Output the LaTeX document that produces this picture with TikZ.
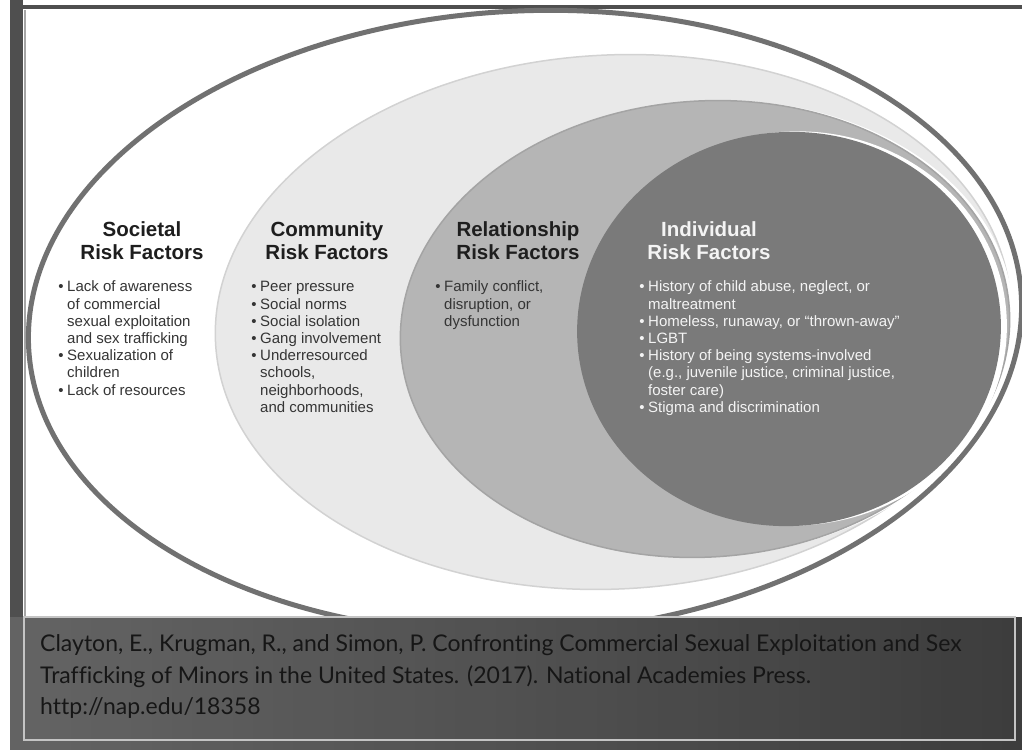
\documentclass[tikz,border=0pt]{standalone}
\usepackage{fontspec}
\setmainfont{Liberation Sans}
\newfontfamily\citefont[Ligatures=NoCommon]{Lato}
\definecolor{framegray}{HTML}{4F4F4F}
\definecolor{ringgray}{HTML}{717171}
\definecolor{commfill}{HTML}{E9E9E9}
\definecolor{commline}{HTML}{D2D2D2}
\definecolor{relfill}{HTML}{B5B5B5}
\definecolor{relline}{HTML}{A4A4A4}
\definecolor{indfill}{HTML}{7A7A7A}
\definecolor{headdark}{HTML}{1E1E1E}
\definecolor{itemdark}{HTML}{353535}
\definecolor{headlight}{HTML}{F4F4F4}
\definecolor{citetext}{HTML}{161616}
\definecolor{bandline}{HTML}{C4C4C4}
\newcommand\bul{\llap{\textbullet\hspace{3.5pt}}}
\tikzset{
  head/.style={anchor=base, inner sep=0pt, font=\bfseries\fontsize{20.5}{23}\selectfont},
  item/.style={anchor=base west, inner sep=0pt, font=\fontsize{15}{17.2}\selectfont},
  cite/.style={anchor=base west, inner sep=0pt, text=citetext, font=\citefont\fontsize{23}{30}\selectfont}
}
\begin{document}
\begin{tikzpicture}[x=1pt,y=1pt]
\useasboundingbox (0,0) rectangle (1022,750);
% slide frame
\fill[white] (0,0) rectangle (1022,750);
\fill[framegray] (10,0) rectangle (23,750);
\fill[framegray] (10,741) rectangle (1022,745);
\draw[black!35, line width=1.5pt] (25,133) -- (25,740);
% outer ring
\draw[ringgray, line width=5pt, rotate around={3:(525,428)}] (525,428) ellipse [x radius=497, y radius=311];
% community, with a white rim on the right
\begin{scope}[shift={(613,428)}, rotate=3]
\fill[white] (4,0) ellipse [x radius=398, y radius=267];
\fill[commfill] (0,0) ellipse [x radius=398, y radius=267];
\draw[commline, line width=1.5pt] (0,0) ellipse [x radius=398, y radius=267];
\end{scope}
% relationship
\begin{scope}[shift={(705,421)}, rotate=4]
\fill[white] (4,0) ellipse [x radius=305, y radius=228];
\fill[relfill] (0,0) ellipse [x radius=305, y radius=228];
\draw[relline, line width=1.5pt] (0,0) ellipse [x radius=305, y radius=228];
\end{scope}
% individual
\begin{scope}[shift={(789,421)}, rotate=5]
\fill[white] (6,0) ellipse [x radius=212, y radius=197];
\fill[indfill] (0,0) ellipse [x radius=212, y radius=197];
\end{scope}
% headings
\foreach \name/\x/\col/\word in {soc/142/headdark/Societal, com/327/headdark/Community, rel/518/headdark/Relationship, ind/709/headlight/Individual} {
  \node[head, text=\col] (\name-a) at (\x,513) {\word};
  \node[head, text=\col] (\name-b) at (\x,490) {Risk Factors};
}
% factor lists
\foreach \t [count=\i] in {\bul Lack of awareness, of commercial, sexual exploitation, and sex trafficking, \bul Sexualization of, children, \bul Lack of resources}
  \node[item, text=itemdark] (soc-\i) at (67,475.2-17.2*\i) {\t};
\foreach \t [count=\i] in {\bul Peer pressure, \bul Social norms, \bul Social isolation, \bul Gang involvement, \bul Underresourced, {schools,}, {neighborhoods,}, and communities}
  \node[item, text=itemdark] (com-\i) at (260,475.2-17.2*\i) {\t};
\foreach \t [count=\i] in {{\bul Family conflict,}, {disruption, or}, dysfunction}
  \node[item, text=itemdark] (rel-\i) at (444,475.2-17.2*\i) {\t};
\foreach \t [count=\i] in {{\bul History of child abuse, neglect, or}, maltreatment, {\bul Homeless, runaway, or ``thrown-away''}, \bul LGBT, \bul History of being systems-involved, {(e.g., juvenile justice, criminal justice,}, foster care), \bul Stigma and discrimination}
  \node[item, text=headlight] (ind-\i) at (648,475.2-17.2*\i) {\t};
% reference band, dark grey getting darker to the right
\foreach \k in {0,...,49} {
  \pgfmathsetmacro\c{61+15*\k/49}
  \fill[black!\c] ({10+20.24*\k},0) rectangle ({10+20.24*(\k+1)+0.5},133);
}
\node[cite] (cite-1) at (40,99) {Clayton, E., Krugman, R., and Simon, P. Confronting Commercial Sexual Exploitation and Sex};
\node[cite] (cite-2) at (40,67) {Trafficking of Minors in the United States. (2017). National Academies Press.};
\node[cite] (cite-3) at (40,36) {http://nap.edu/18358};
\draw[bandline, line width=1.3pt] (24,133) rectangle (1015,10);
\end{tikzpicture}
\end{document}
